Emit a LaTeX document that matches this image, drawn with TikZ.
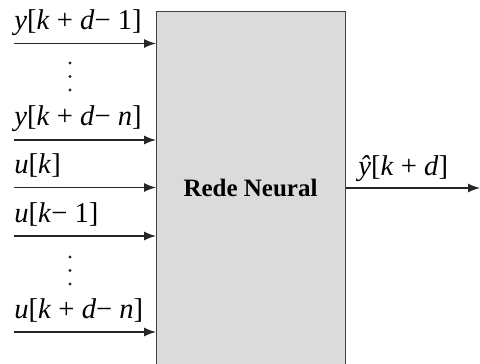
\documentclass[tikz,border=0pt]{standalone}
\usepackage{fontspec}
\setmainfont{Liberation Serif}
\usetikzlibrary{arrows.meta}
\begin{document}
\begin{tikzpicture}[x=0.5pt,y=-0.5pt,
  lbl/.style={anchor=base west,inner sep=0pt,font=\fontsize{14.3}{16}\selectfont},
  sig/.style={draw=black!85,line width=0.65pt,-{Latex[length=6pt,width=4.5pt]}},
  dotn/.style={circle,fill=black!85,inner sep=0pt,minimum size=1.7pt}]
\useasboundingbox (0,0) rectangle (480,363);
\node[draw=black!75,fill=black!14,line width=0.7pt,minimum width=94.5pt,minimum height=180pt,anchor=north west,inner sep=0pt] (nn) at (156,11) {};
\node[font=\fontsize{12.5}{14}\selectfont\bfseries] (t) at (250.5,188) {Rede Neural};
\coordinate (s1) at (14,43.5);
\coordinate (s2) at (14,140);
\coordinate (s3) at (14,187.5);
\coordinate (s4) at (14,236);
\coordinate (s5) at (14,332);
\draw[sig] (s1) -- (s1 -| nn.west);
\draw[sig] (s2) -- (s2 -| nn.west);
\draw[sig] (s3) -- (s3 -| nn.west);
\draw[sig] (s4) -- (s4 -| nn.west);
\draw[sig] (s5) -- (s5 -| nn.west);
\node[lbl] (l1) at (14,30) {\textit{y}[\textit{k} + \textit{d}− 1]};
\node[lbl] (l2) at (14,126) {\textit{y}[\textit{k} + \textit{d}− \textit{n}]};
\node[lbl] (l3) at (14,173.5) {\textit{u}[\textit{k}]};
\node[lbl] (l4) at (14,222) {\textit{u}[\textit{k}− 1]};
\node[lbl] (l5) at (14,318) {\textit{u}[\textit{k} + \textit{d}− \textit{n}]};
\node[dotn] (d1) at (70,63) {};
\node[dotn] (d2) at (70,76.5) {};
\node[dotn] (d3) at (70,90) {};
\node[dotn] (d4) at (70,257) {};
\node[dotn] (d5) at (70,270.5) {};
\node[dotn] (d6) at (70,284) {};
\coordinate (out) at (480,188);
\draw[sig] (nn.east |- out) -- (out);
\node[lbl] (lo) at (358,175) {\textit{\^y}[\textit{k} + \textit{d}]};
\end{tikzpicture}
\end{document}
